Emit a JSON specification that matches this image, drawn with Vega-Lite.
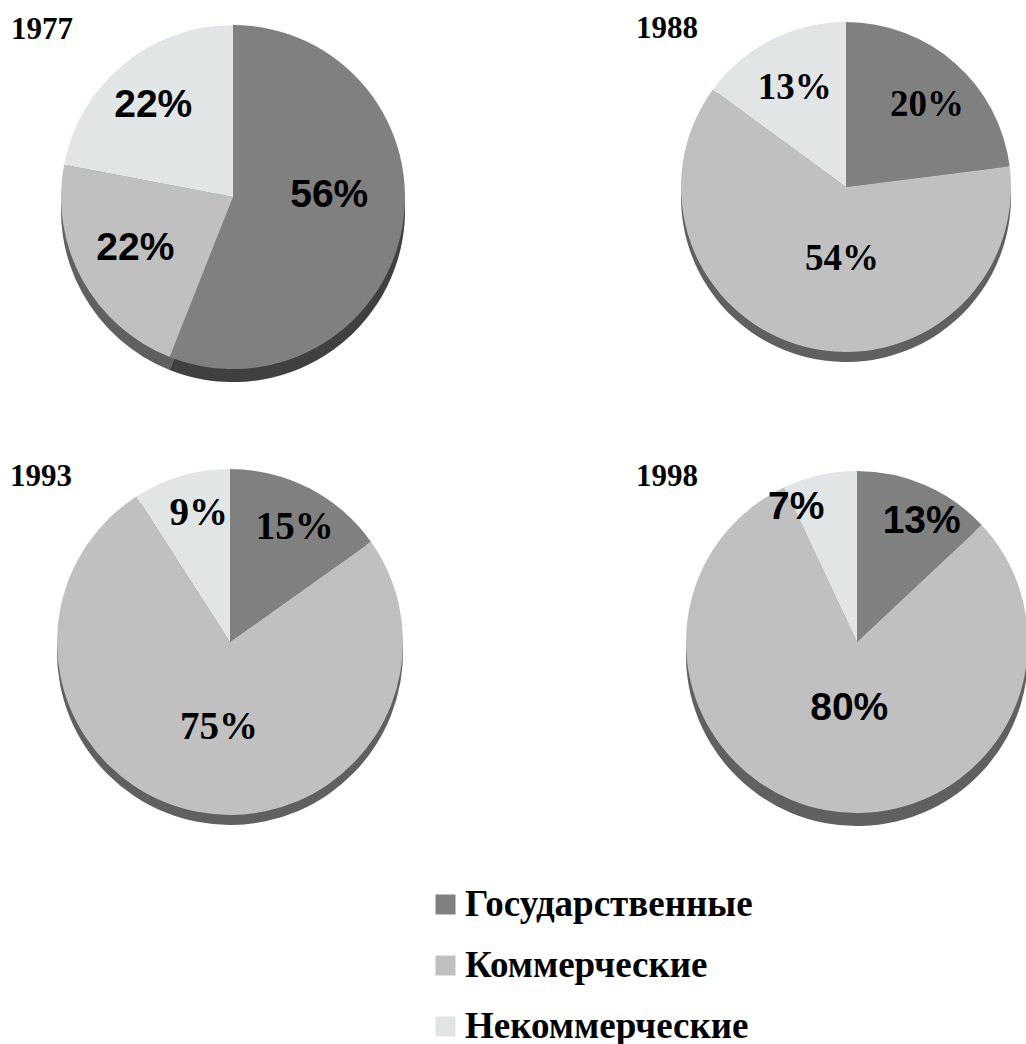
{"$schema":"https://vega.github.io/schema/vega-lite/v6.json","padding":0,"background":"white","config":{"view":{"stroke":null},"concat":{"spacing":0}},
"datasets":{"d":[
{"year":1977,"category":"Государственные","share":56,"label":"56%"},{"year":1977,"category":"Коммерческие","share":22,"label":"22%"},{"year":1977,"category":"Некоммерческие","share":22,"label":"22%"},
{"year":1988,"category":"Государственные","share":20,"label":"20%"},{"year":1988,"category":"Коммерческие","share":54,"label":"54%"},{"year":1988,"category":"Некоммерческие","share":13,"label":"13%"},
{"year":1993,"category":"Государственные","share":15,"label":"15%"},{"year":1993,"category":"Коммерческие","share":75,"label":"75%"},{"year":1993,"category":"Некоммерческие","share":9,"label":"9%"},
{"year":1998,"category":"Государственные","share":13,"label":"13%"},{"year":1998,"category":"Коммерческие","share":80,"label":"80%"},{"year":1998,"category":"Некоммерческие","share":7,"label":"7%"}]},
"resolve":{"scale":{"theta":"independent","color":"shared"},"legend":{"color":"shared"}},
"spacing":56,
"vconcat":[
{"spacing":170,"resolve":{"scale":{"theta":"independent"}},"hconcat":[
{"width":466,"height":394,"data":{"name":"d"},"transform":[{"filter":"datum.year===1977"}],
"title":{"text":"1977","frame":"group","anchor":"start","offset":-46,"dx":11,"font":"Liberation Serif","fontSize":31,"fontWeight":"bold","color":"black"},
"encoding":{"theta":{"field":"share","type":"quantitative","stack":true,"scale":{"type":"linear"}},"order":{"field":"category","sort":"ascending"}},
"layer":[
{"mark":{"type":"arc","radius":172,"yOffset":13},"encoding":{"color":{"field":"category","type":"nominal","scale":{"domain":["Государственные","Коммерческие","Некоммерческие"],"range":["#808080","#c0c0c0","#e2e5e6"]},"legend":{"title":null,"orient":"none","legendX":427,"legendY":886,"symbolType":"square","symbolSize":400,"symbolStrokeWidth":0,"symbolOpacity":1,"rowPadding":23,"labelFont":"Liberation Serif","labelFontSize":37,"labelFontWeight":"bold","labelColor":"black","labelOffset":1,"labelLimit":400}}}},
{"mark":{"type":"arc","radius":172,"yOffset":13,"color":"black","opacity":0.5},"encoding":{"detail":{"field":"category"}}},
{"mark":{"type":"arc","radius":172},"encoding":{"color":{"field":"category","type":"nominal"}}},
{"mark":{"type":"text","radius":100,"dx":-2,"dy":-21,"font":"Liberation Sans","fontWeight":"bold","fontSize":39,"color":"black"},"encoding":{"detail":{"field":"category"},"text":{"condition":{"test":"datum.category==='Государственные'","field":"label"},"value":""}}},
{"mark":{"type":"text","radius":100,"dx":-10,"dy":3,"font":"Liberation Sans","fontWeight":"bold","fontSize":39,"color":"black"},"encoding":{"detail":{"field":"category"},"text":{"condition":{"test":"datum.category==='Коммерческие'","field":"label"},"value":""}}},
{"mark":{"type":"text","radius":100,"dx":-16,"dy":-15,"font":"Liberation Sans","fontWeight":"bold","fontSize":39,"color":"black"},"encoding":{"detail":{"field":"category"},"text":{"condition":{"test":"datum.category==='Некоммерческие'","field":"label"},"value":""}}}
]},
{"width":390,"height":374,"data":{"name":"d"},"transform":[{"filter":"datum.year===1988"}],
"title":{"text":"1988","frame":"group","anchor":"start","offset":-45,"dx":0,"font":"Liberation Serif","fontSize":31,"fontWeight":"bold","color":"black"},
"encoding":{"theta":{"field":"share","type":"quantitative","stack":true},"order":{"field":"category","sort":"ascending"}},
"layer":[
{"mark":{"type":"arc","radius":165,"xOffset":15,"yOffset":10},"encoding":{"color":{"field":"category","type":"nominal"}}},
{"mark":{"type":"arc","radius":165,"xOffset":15,"yOffset":10,"color":"black","opacity":0.5},"encoding":{"detail":{"field":"category"}}},
{"mark":{"type":"arc","radius":165,"xOffset":15},"encoding":{"color":{"field":"category","type":"nominal"}}},
{"mark":{"type":"text","radius":100,"dx":30,"dy":-7,"font":"Liberation Serif","fontWeight":"bold","fontSize":37,"color":"black"},"encoding":{"detail":{"field":"category"},"text":{"condition":{"test":"datum.category==='Государственные'","field":"label"},"value":""}}},
{"mark":{"type":"text","radius":100,"dx":36,"dy":-25,"font":"Liberation Serif","fontWeight":"bold","fontSize":37,"color":"black"},"encoding":{"detail":{"field":"category"},"text":{"condition":{"test":"datum.category==='Коммерческие'","field":"label"},"value":""}}},
{"mark":{"type":"text","radius":100,"dx":9,"dy":-10,"font":"Liberation Serif","fontWeight":"bold","fontSize":37,"color":"black"},"encoding":{"detail":{"field":"category"},"text":{"condition":{"test":"datum.category==='Некоммерческие'","field":"label"},"value":""}}}
]}]},
{"spacing":176,"resolve":{"scale":{"theta":"independent"}},"hconcat":[
{"width":460,"height":384,"data":{"name":"d"},"transform":[{"filter":"datum.year===1993"}],
"title":{"text":"1993","frame":"group","anchor":"start","offset":-43,"dx":10,"font":"Liberation Serif","fontSize":31,"fontWeight":"bold","color":"black"},
"encoding":{"theta":{"field":"share","type":"quantitative","stack":true},"order":{"field":"category","sort":"ascending"}},
"layer":[
{"mark":{"type":"arc","radius":173,"yOffset":10},"encoding":{"color":{"field":"category","type":"nominal"}}},
{"mark":{"type":"arc","radius":173,"yOffset":10,"color":"black","opacity":0.5},"encoding":{"detail":{"field":"category"}}},
{"mark":{"type":"arc","radius":173},"encoding":{"color":{"field":"category","type":"nominal"}}},
{"mark":{"type":"text","radius":100,"dx":19,"dy":-26,"font":"Liberation Serif","fontWeight":"bold","fontSize":39,"color":"black"},"encoding":{"detail":{"field":"category"},"text":{"condition":{"test":"datum.category==='Государственные'","field":"label"},"value":""}}},
{"mark":{"type":"text","radius":100,"dx":8,"dy":-13,"font":"Liberation Serif","fontWeight":"bold","fontSize":39,"color":"black"},"encoding":{"detail":{"field":"category"},"text":{"condition":{"test":"datum.category==='Коммерческие'","field":"label"},"value":""}}},
{"mark":{"type":"text","radius":100,"dx":-3,"dy":-33,"font":"Liberation Serif","fontWeight":"bold","fontSize":39,"color":"black"},"encoding":{"detail":{"field":"category"},"text":{"condition":{"test":"datum.category==='Некоммерческие'","field":"label"},"value":""}}}
]},
{"width":390,"height":384,"data":{"name":"d"},"transform":[{"filter":"datum.year===1998"}],
"title":{"text":"1998","frame":"group","anchor":"start","offset":-43,"dx":0,"font":"Liberation Serif","fontSize":31,"fontWeight":"bold","color":"black"},
"encoding":{"theta":{"field":"share","type":"quantitative","stack":true},"order":{"field":"category","sort":"ascending"}},
"layer":[
{"mark":{"type":"arc","radius":171,"xOffset":26,"yOffset":13},"encoding":{"color":{"field":"category","type":"nominal"}}},
{"mark":{"type":"arc","radius":171,"xOffset":26,"yOffset":13,"color":"black","opacity":0.5},"encoding":{"detail":{"field":"category"}}},
{"mark":{"type":"arc","radius":171,"xOffset":26},"encoding":{"color":{"field":"category","type":"nominal"}}},
{"mark":{"type":"text","radius":100,"dx":51,"dy":-29,"font":"Liberation Sans","fontWeight":"bold","fontSize":39,"color":"black"},"encoding":{"detail":{"field":"category"},"text":{"condition":{"test":"datum.category==='Государственные'","field":"label"},"value":""}}},
{"mark":{"type":"text","radius":100,"dx":37,"dy":-32,"font":"Liberation Sans","fontWeight":"bold","fontSize":39,"color":"black"},"encoding":{"detail":{"field":"category"},"text":{"condition":{"test":"datum.category==='Коммерческие'","field":"label"},"value":""}}},
{"mark":{"type":"text","radius":100,"dx":-13,"dy":-37,"font":"Liberation Sans","fontWeight":"bold","fontSize":39,"color":"black"},"encoding":{"detail":{"field":"category"},"text":{"condition":{"test":"datum.category==='Некоммерческие'","field":"label"},"value":""}}}
]}]}
]}
